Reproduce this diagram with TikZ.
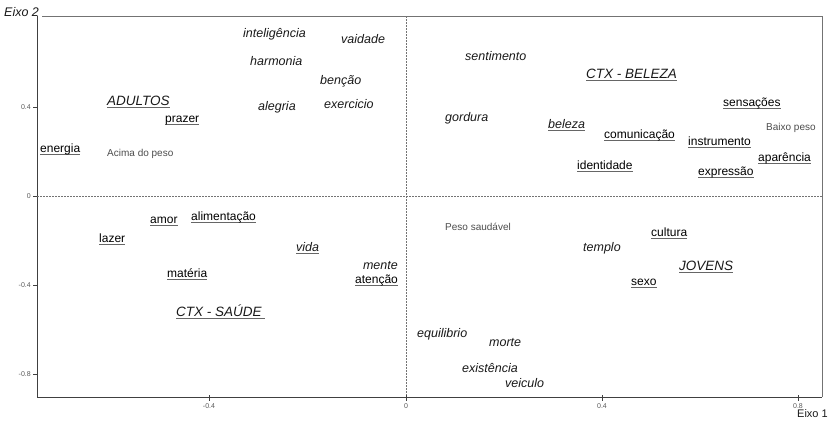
\documentclass[tikz,border=0pt]{standalone}
\usepackage{fontspec}
\setmainfont{Liberation Sans}
\newcommand\ulx[1]{\setbox0=\hbox{#1}\rlap{\color{black!60}\rule[-2.8pt]{\wd0}{1.2pt}}\box0}
\tikzset{
  lbl/.style={anchor=west,inner sep=0pt,text height=9pt,text depth=3pt,text=black},
  itw/.style={lbl,font=\fontsize{12.5}{14}\selectfont\itshape,text=black!90},
  ulw/.style={lbl,font=\fontsize{12}{14}\selectfont},
  grp/.style={lbl,font=\fontsize{13.5}{15}\selectfont\itshape,text=black!90},
  wgt/.style={lbl,font=\fontsize{10}{12}\selectfont,text=black!70},
  tick/.style={font=\fontsize{7}{8}\selectfont,text=black!65,inner sep=0pt},
  axis/.style={draw=black!75,line width=0.8pt},
  frame/.style={draw=black!55,line width=0.8pt},
  dotl/.style={draw=black!55,line width=0.7pt,dash pattern=on 1.5pt off 1.5pt}
}
\begin{document}
\begin{tikzpicture}[x=1pt,y=-1pt]
\useasboundingbox (0,0) rectangle (833,421);
% frame and axes
\coordinate (tl) at (37,16);
\coordinate (tr) at (822,16);
\coordinate (bl) at (37,397);
\coordinate (br) at (822,397);
\coordinate (ts) at (42,16);
\draw[frame] (ts) -- (tr) -- (br);
\draw[axis] (tl) -- (bl) -- (br);
\coordinate (h0) at (37,196);
\coordinate (h1) at (822,196);
\coordinate (v0) at (406,16);
\coordinate (v1) at (406,397);
\draw[dotl] (h0) -- (h1);
\draw[dotl] (v0) -- (v1);
% y ticks
\foreach \yy/\tx [count=\i] in {107/0.4,196/0,285/-0.4,374/-0.8}{
  \coordinate (ya\i) at (33,\yy);
  \coordinate (yb\i) at (37,\yy);
  \draw[axis,line width=0.6pt] (ya\i) -- (yb\i);
  \node[tick,anchor=east] (yl\i) at (31,\yy) {\tx};
}
% x ticks
\foreach \xx/\tx [count=\i] in {209/-0.4,406/0,602/0.4,798/0.8}{
  \coordinate (xa\i) at (\xx,395);
  \coordinate (xb\i) at (\xx,401);
  \draw[axis,line width=0.6pt] (xa\i) -- (xb\i);
  \node[tick] (xl\i) at (\xx,406) {\tx};
}
\node[font=\fontsize{12.5}{14}\selectfont\itshape,inner sep=0pt,anchor=west,text=black!90] (eixo2) at (4,12) {Eixo 2};
\node[font=\fontsize{11}{13}\selectfont,inner sep=0pt,anchor=west,text=black!90] (eixo1) at (797,413.5) {Eixo 1};
% upper left
\node[itw] (inteligencia) at (243,34) {inteligência};
\node[itw] (vaidade) at (341,40) {vaidade};
\node[itw] (harmonia) at (250,62) {harmonia};
\node[itw] (bencao) at (320,81) {benção};
\node[itw] (alegria) at (258,107) {alegria};
\node[itw] (exercicio) at (324,105) {exercicio};
\node[grp] (adultos) at (107,102) {\ulx{ADULTOS}};
\node[ulw] (prazer) at (165,119) {\ulx{prazer}};
\node[ulw] (energia) at (40,149) {\ulx{energia}};
\node[wgt] (acima) at (107,153) {Acima do peso};
% upper right
\node[itw] (sentimento) at (465,57) {sentimento};
\node[grp] (ctxbeleza) at (586,75) {\ulx{CTX - BELEZA}};
\node[ulw] (sensacoes) at (723,103) {\ulx{sensações}};
\node[itw] (gordura) at (445,118) {gordura};
\node[itw] (beleza) at (548,125) {\ulx{beleza}};
\node[wgt] (baixo) at (766,127) {Baixo peso};
\node[ulw] (comunicacao) at (604,135) {\ulx{comunicação}};
\node[ulw] (instrumento) at (688,142) {\ulx{instrumento}};
\node[ulw] (aparencia) at (758,158) {\ulx{aparência}};
\node[ulw] (identidade) at (577,166) {\ulx{identidade}};
\node[ulw] (expressao) at (698,172) {\ulx{expressão}};
% lower left
\node[ulw] (amor) at (150,220) {\ulx{amor}};
\node[ulw] (alimentacao) at (191,217) {\ulx{alimentação}};
\node[ulw] (lazer) at (99,239) {\ulx{lazer}};
\node[itw] (vida) at (296,248) {\ulx{vida}};
\node[itw,anchor=east] (mente) at (398,266) {mente};
\node[ulw] (atencao) at (355,280) {\ulx{atenção}};
\node[ulw] (materia) at (167,274) {\ulx{matéria}};
\node[grp] (ctxsaude) at (176,313) {\ulx{CTX - SAÚDE\ }};
% lower right
\node[wgt] (saudavel) at (445,227) {Peso saudável};
\node[ulw] (cultura) at (651,233) {\ulx{cultura}};
\node[itw] (templo) at (583,248) {templo};
\node[grp] (jovens) at (679,267) {\ulx{JOVENS}};
\node[ulw] (sexo) at (631,282) {\ulx{sexo}};
\node[itw] (equilibrio) at (417,334) {equilibrio};
\node[itw] (morte) at (489,343) {morte};
\node[itw] (existencia) at (462,369) {existência};
\node[itw] (veiculo) at (505,384) {veiculo};
\end{tikzpicture}
\end{document}
